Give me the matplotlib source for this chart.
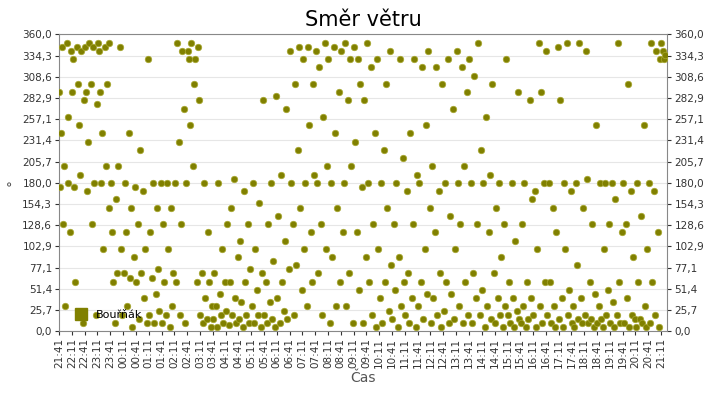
import matplotlib
matplotlib.use("Agg")
import matplotlib.pyplot as plt
from matplotlib.lines import Line2D

minutes = [1,3,5,8,10,12,15,18,20,22,25,28,
31,33,36,38,41,44,46,49,52,55,58,
61,63,66,68,71,74,77,80,83,86,88,
91,94,96,99,101,104,107,110,113,116,118,
121,124,127,130,133,136,139,142,145,148,
151,154,157,160,163,166,169,172,175,178,
181,184,187,190,193,196,199,202,205,208,
211,214,217,220,223,226,229,232,235,238,
241,244,247,250,253,256,259,262,265,268,
271,274,277,280,283,286,289,292,295,298,
301,304,307,310,313,316,319,322,325,328,
331,334,337,340,343,346,349,352,355,358,
361,364,367,370,373,376,379,382,385,388,
391,394,397,400,403,406,409,412,415,418,
421,424,427,430,433,436,439,442,445,448,
451,454,457,460,463,466,469,472,475,478,
481,484,487,490,493,496,499,502,505,508,
511,514,517,520,523,526,529,532,535,538,
541,544,547,550,553,556,559,562,565,568,
571,574,577,580,583,586,589,592,595,598,
601,604,607,610,613,616,619,622,625,628,
631,634,637,640,643,646,649,652,655,658,
661,664,667,670,673,676,679,682,685,688,
691,694,697,700,703,706,709,712,715,718,
721,724,727,730,733,736,739,742,745,748,
751,754,757,760,763,766,769,772,775,778,
781,784,787,790,793,796,799,802,805,808,
811,814,817,820,823,826,829,832,835,838,
841,844,847,850,853,856,859,862,865,868,
871,874,877,880,883,886,889,892,895,898,
901,904,907,910,913,916,919,922,925,928,
931,934,937,940,943,946,949,952,955,958,
961,964,967,970,973,976,979,982,985,988,
991,994,997,1000,1003,1006,1009,1012,1015,1018,
1021,1024,1027,1030,1033,1036,1039,1042,1045,1048,
1051,1054,1057,1060,1063,1066,1069,1072,1075,1078,
1081,1084,1087,1090,1093,1096,1099,1102,1105,1108,
1111,1114,1117,1120,1123,1126,1129,1132,1135,1138,
1141,1144,1147,1150,1153,1156,1159,1162,1165,1168,
1171,1174,1177,1180,1183,1186,1189,1192,1195,1198,
1201,1204,1207,1210,1213,1216,1219,1222,1225,1228,
1231,1234,1237,1240,1243,1246,1249,1252,1255,1258,
1261,1264,1267,1270,1273,1276,1279,1282,1285,1288,
1291,1294,1297,1300,1303,1306,1309,1312,1315,1318,
1321,1324,1327,1330,1333,1336,1339,1342,1345,1348,
1351,1354,1357,1360,1363,1366,1369,1372,1375,1378,
1381,1384,1387,1390,1393,1396,1399,1402,1405,1408,
1411,1414,1417,1420]

directions = [290,175,240,345,130,200,30,350,260,180,120,340,
290,330,175,60,345,300,250,190,340,10,280,
345,290,170,230,350,300,130,345,180,20,275,
350,340,290,180,240,100,345,200,300,150,350,
180,120,60,10,160,70,200,345,100,20,
70,180,120,30,240,65,150,5,90,175,
60,130,15,220,70,170,40,100,10,330,
20,120,65,180,10,45,150,75,25,180,
10,130,60,20,180,100,5,150,30,70,
180,60,350,230,20,130,340,270,10,180,
340,330,250,350,200,300,330,60,345,280,
20,70,10,180,40,15,120,60,5,30,
15,70,30,5,180,45,20,100,10,60,
25,130,8,60,150,20,185,40,10,90,
15,110,35,5,170,60,20,130,10,75,
30,180,10,100,50,20,155,5,70,280,
20,60,10,130,35,180,15,85,5,285,
40,140,10,190,60,25,110,270,15,75,
340,180,130,20,300,80,220,345,150,50,
330,100,180,30,345,250,120,60,300,190,
340,180,70,320,130,20,260,350,100,200,
330,10,180,90,345,240,30,150,290,60,
340,120,180,350,30,280,70,330,200,10,
345,230,120,330,50,300,175,10,280,90,
350,180,60,320,20,130,240,5,330,100,
40,180,10,220,60,300,150,25,340,80,
15,130,50,180,5,90,330,30,210,60,
20,170,70,10,240,40,130,330,5,190,
30,180,60,320,15,100,250,45,340,150,
10,200,40,120,320,20,170,70,5,300,
25,180,60,330,10,140,45,270,15,100,
340,180,30,130,320,10,200,60,290,20,
330,180,10,70,310,40,130,350,20,220,
50,180,5,260,30,120,190,15,300,70,
10,150,40,180,20,90,5,130,30,330,
20,60,10,180,40,5,110,25,290,15,
10,130,30,180,5,60,15,280,40,160,
20,170,5,100,350,30,290,10,180,60,
340,20,180,60,10,150,30,5,120,345,
15,280,40,5,180,100,350,20,50,170,
10,30,5,180,80,15,350,40,10,150,
20,340,185,10,60,15,130,5,45,250,
10,30,180,15,5,100,180,20,50,130,
10,180,35,5,160,20,350,60,10,120,
180,10,130,40,300,5,170,20,90,15,
5,180,60,15,140,10,250,30,5,100,
180,10,350,60,170,20,340,120,5,330,
350,340,330,335]

start_hour, start_min = 21, 41
yticks = [0, 25.7, 51.4, 77.1, 102.9, 128.6, 154.3, 180, 205.7, 231.4, 257.1, 282.9, 308.6, 334.3, 360]

fig = plt.figure(figsize=(7.2, 4.0), dpi=100)
ax = fig.add_axes([0.082, 0.172, 0.845, 0.742])
olive = "#808000"
ax.scatter(minutes, directions, s=22, color=olive, edgecolors="#a8a830", linewidths=0.5, marker="o", zorder=3)

ax.set_xlim(0, 1425)
ax.set_ylim(0, 360)
ax.set_yticks(yticks)
ax.set_yticklabels([f"{v:.1f}".replace(".", ",") for v in yticks], fontsize=7.5)
ax.tick_params(axis="y", which="both", right=True, labelright=True, length=3, colors="#333333", labelsize=7.5, pad=2)
xt = list(range(0, 1411, 30))
labels = []
for m in xt:
    tot = start_hour * 60 + start_min + m
    labels.append(f"{(tot // 60) % 24:02d}:{tot % 60:02d}")
ax.set_xticks(xt)
ax.set_xticklabels(labels, rotation=90, fontsize=7.5)
ax.tick_params(axis="x", length=3, colors="#333333", labelsize=7.5, pad=2)
ax.grid(axis="y", color="#e6e6e6", linewidth=0.8)
ax.set_axisbelow(True)
for s in ax.spines.values():
    s.set_color("#888888")
ax.set_title("Směr větru", fontsize=15, pad=6)
ax.set_xlabel("Čas", fontsize=10, color="#555555", labelpad=2)
ax.set_ylabel("°", fontsize=10, color="#555555", labelpad=1)
handle = Line2D([], [], linestyle="none", marker="s", markersize=8, color=olive)
ax.legend([handle], ["Bouřňák"], loc="lower left", frameon=False, fontsize=8,
          handletextpad=0.3, borderaxespad=0.6)
fig.savefig("out.png", dpi=100)
